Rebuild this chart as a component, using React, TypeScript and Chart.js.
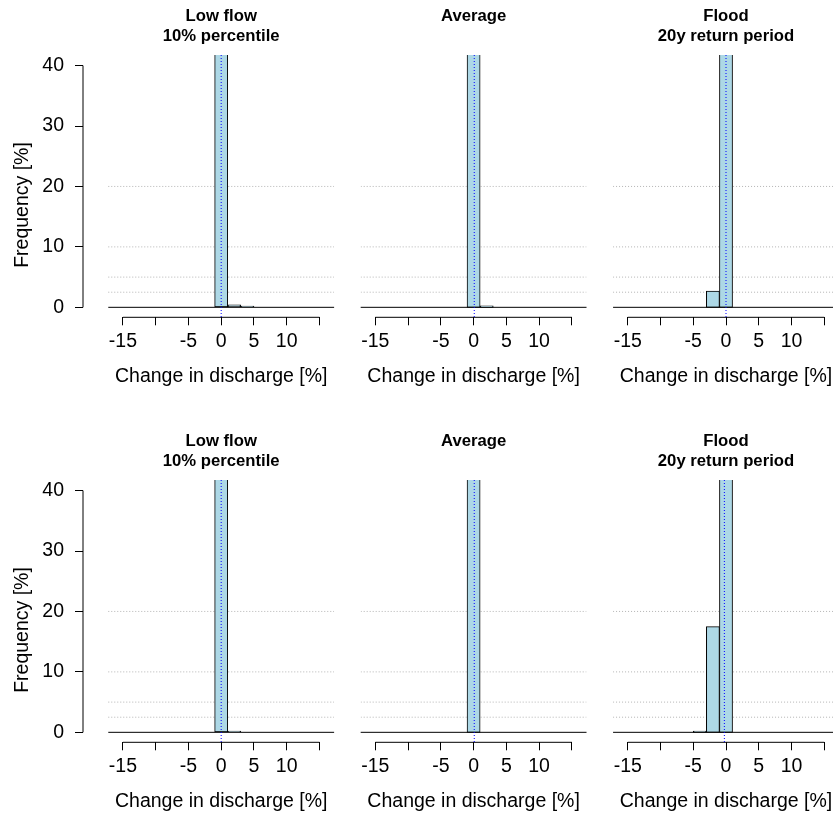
import React, { useEffect, useRef } from "react";
import { Chart, registerables } from "chart.js";

Chart.register(...registerables);

// ---- data ----
const BIN_CENTERS = [-4, -2, 0, 2, 4]; // histogram bins of width 2 (edges at odd numbers)
const LOW_FLOW_TOP = [0, 0, 99.4, 0.4, 0.2];
const AVERAGE_TOP = [0, 0, 99.75, 0.25, 0];
const FLOOD_TOP = [0, 2.7, 97.3, 0, 0];
const LOW_FLOW_BOTTOM = [0, 0, 99.8, 0.2, 0];
const AVERAGE_BOTTOM = [0, 0, 100, 0, 0];
const FLOOD_BOTTOM = [0.2, 17.5, 82.3, 0, 0];
const MEDIANS_TOP = [0, 0.1, 0];
const MEDIANS_BOTTOM = [0, 0.1, -0.25];
const TITLES = [["Low flow", "10% percentile"], ["Average"], ["Flood", "20y return period"]];
const X_TICKS = [-15, -10, -5, 0, 5, 10, 15];
const X_TICK_LABELS = ["-15", "", "-5", "0", "5", "10", ""];
const Y_TICKS = [0, 10, 20, 30, 40];
const REF_LINES = [2.5, 5, 10, 20];
const X_LABEL = "Change in discharge [%]";
const Y_LABEL = "Frequency [%]";

const SERIES = [
  [LOW_FLOW_TOP, AVERAGE_TOP, FLOOD_TOP],
  [LOW_FLOW_BOTTOM, AVERAGE_BOTTOM, FLOOD_BOTTOM],
];
const MEDIANS = [MEDIANS_TOP, MEDIANS_BOTTOM];

// ---- layout ----
const FONT = '"Liberation Sans", Arial, sans-serif';
const PPU = 6.55;
const CX = [221.2, 473.6, 726.0];
const HALF = 17.24;
const COLS = [
  { left: 0, width: 335 },
  { left: 335, width: 252 },
  { left: 587, width: 246 },
];
const ROWS = [
  { top: 0, height: 425 },
  { top: 425, height: 395 },
];
const CHART_TOP = 55;
const CHART_BOTTOM = 317.3;
const Y_MIN = -1.65;
const Y_MAX = 41.75;

function Panel({ row, col }: { row: number; col: number }) {
  const ref = useRef<HTMLCanvasElement | null>(null);
  const C = COLS[col];
  const R = ROWS[row];

  useEffect(() => {
    const cx = CX[col];
    const absLeft = col === 0 ? 83 : cx - HALF * PPU;
    const absRight = Math.min(cx + HALF * PPU, 833);
    const xMin = (absLeft - cx) / PPU;
    const xMax = (absRight - cx) / PPU;
    const padLeft = absLeft - C.left;
    const padRight = C.left + C.width - absRight;
    const values = SERIES[row][col];
    const median = MEDIANS[row][col];
    const H = R.height;

    const overlay = {
      id: "overlay",
      beforeDatasetsDraw(chart: any) {
        const { ctx, chartArea } = chart;
        const xs = chart.scales.x;
        const ys = chart.scales.y;
        ctx.save();
        ctx.beginPath();
        ctx.rect(chartArea.left, chartArea.top, chartArea.right - chartArea.left, chartArea.bottom - chartArea.top);
        ctx.clip();
        ctx.strokeStyle = "#b4b4b4";
        ctx.lineWidth = 1;
        ctx.setLineDash([1, 2]);
        const x1 = xs.getPixelForValue(-HALF);
        const x2 = xs.getPixelForValue(HALF);
        for (const v of REF_LINES) {
          const y = ys.getPixelForValue(v);
          ctx.beginPath();
          ctx.moveTo(x1, y);
          ctx.lineTo(x2, y);
          ctx.stroke();
        }
        ctx.restore();
      },
      afterDatasetsDraw(chart: any) {
        const { ctx, chartArea } = chart;
        const xs = chart.scales.x;
        const ys = chart.scales.y;
        ctx.save();
        ctx.strokeStyle = "#000";
        ctx.lineWidth = 1;
        // baseline at 0
        const y0 = ys.getPixelForValue(0);
        ctx.beginPath();
        ctx.moveTo(xs.getPixelForValue(-HALF), y0);
        ctx.lineTo(Math.min(xs.getPixelForValue(HALF), chartArea.right), y0);
        ctx.stroke();
        // x axis line
        ctx.beginPath();
        ctx.moveTo(xs.getPixelForValue(X_TICKS[0]), chartArea.bottom);
        ctx.lineTo(xs.getPixelForValue(X_TICKS[X_TICKS.length - 1]), chartArea.bottom);
        ctx.stroke();
        // y axis line
        if (col === 0) {
          ctx.beginPath();
          ctx.moveTo(chartArea.left, ys.getPixelForValue(Y_TICKS[0]));
          ctx.lineTo(chartArea.left, ys.getPixelForValue(Y_TICKS[Y_TICKS.length - 1]));
          ctx.stroke();
        }
        // median line
        ctx.strokeStyle = "#0000ff";
        ctx.setLineDash([1, 2]);
        const xm = xs.getPixelForValue(median);
        ctx.beginPath();
        ctx.moveTo(xm, chartArea.top);
        ctx.lineTo(xm, chartArea.bottom);
        ctx.stroke();
        ctx.restore();
      },
      afterDraw(chart: any) {
        const { ctx } = chart;
        const xs = chart.scales.x;
        const c = xs.getPixelForValue(0);
        ctx.save();
        ctx.fillStyle = "#000";
        ctx.textAlign = "center";
        ctx.textBaseline = "alphabetic";
        ctx.font = `bold 16.7px ${FONT}`;
        TITLES[col].forEach((t, i) => ctx.fillText(t, c, 20.5 + i * 20));
        ctx.font = `19.5px ${FONT}`;
        ctx.fillText(X_LABEL, c, 382.3);
        if (col === 0) {
          ctx.translate(27.5, 205);
          ctx.rotate(-Math.PI / 2);
          ctx.fillText(Y_LABEL, 0, 0);
        }
        ctx.restore();
      },
    };

    const chart = new Chart(ref.current as HTMLCanvasElement, {
      type: "bar",
      data: {
        datasets: [
          {
            data: BIN_CENTERS.map((x, i) => ({ x, y: values[i] })),
            backgroundColor: "#ADD8E6",
            borderColor: "#000",
            borderWidth: 1,
            borderSkipped: false,
            barPercentage: 1,
            categoryPercentage: 1,
          },
        ],
      },
      options: {
        animation: false,
        responsive: false,
        devicePixelRatio: 1,
        layout: { padding: { top: CHART_TOP, bottom: 0, left: col === 0 ? 0 : padLeft, right: padRight } },
        plugins: { legend: { display: false }, tooltip: { enabled: false }, title: { display: false } },
        scales: {
          x: {
            type: "linear",
            min: xMin,
            max: xMax,
            offset: false,
            bounds: "data",
            afterBuildTicks: (s: any) => {
              s.ticks = X_TICKS.map((v) => ({ value: v }));
            },
            afterFit: (s: any) => {
              s.height = H - CHART_BOTTOM;
            },
            ticks: {
              autoSkip: false,
              maxRotation: 0,
              minRotation: 0,
              padding: 5,
              color: "#000",
              font: { family: FONT, size: 19.5 },
              callback: (_v: any, i: number) => X_TICK_LABELS[i],
            },
            grid: {
              display: true,
              offset: false,
              drawOnChartArea: false,
              drawTicks: true,
              tickLength: 8,
              color: "#000",
              lineWidth: 1,
            },
            border: { display: false },
          },
          y: {
            type: "linear",
            display: col === 0,
            min: Y_MIN,
            max: Y_MAX,
            bounds: "data",
            afterBuildTicks: (s: any) => {
              s.ticks = Y_TICKS.map((v) => ({ value: v }));
            },
            afterFit: (s: any) => {
              if (col === 0) s.width = padLeft;
            },
            ticks: {
              autoSkip: false,
              padding: 11,
              color: "#000",
              font: { family: FONT, size: 19.5 },
              callback: (v: any) => String(v),
            },
            grid: {
              display: true,
              offset: false,
              drawOnChartArea: false,
              drawTicks: true,
              tickLength: 8,
              color: "#000",
              lineWidth: 1,
            },
            border: { display: false },
          },
        },
      } as any,
      plugins: [overlay],
    });
    return () => chart.destroy();
  }, []);

  return (
    <canvas
      ref={ref}
      width={C.width}
      height={R.height}
      style={{ position: "absolute", left: C.left, top: R.top, width: C.width, height: R.height }}
    />
  );
}

export default function App() {
  const panels = [];
  for (let r = 0; r < 2; r++) for (let c = 0; c < 3; c++) panels.push(<Panel key={`${r}-${c}`} row={r} col={c} />);
  return (
    <div style={{ position: "absolute", left: 0, top: 0, width: 833, height: 820, overflow: "hidden", background: "#fff" }}>
      {panels}
    </div>
  );
}
